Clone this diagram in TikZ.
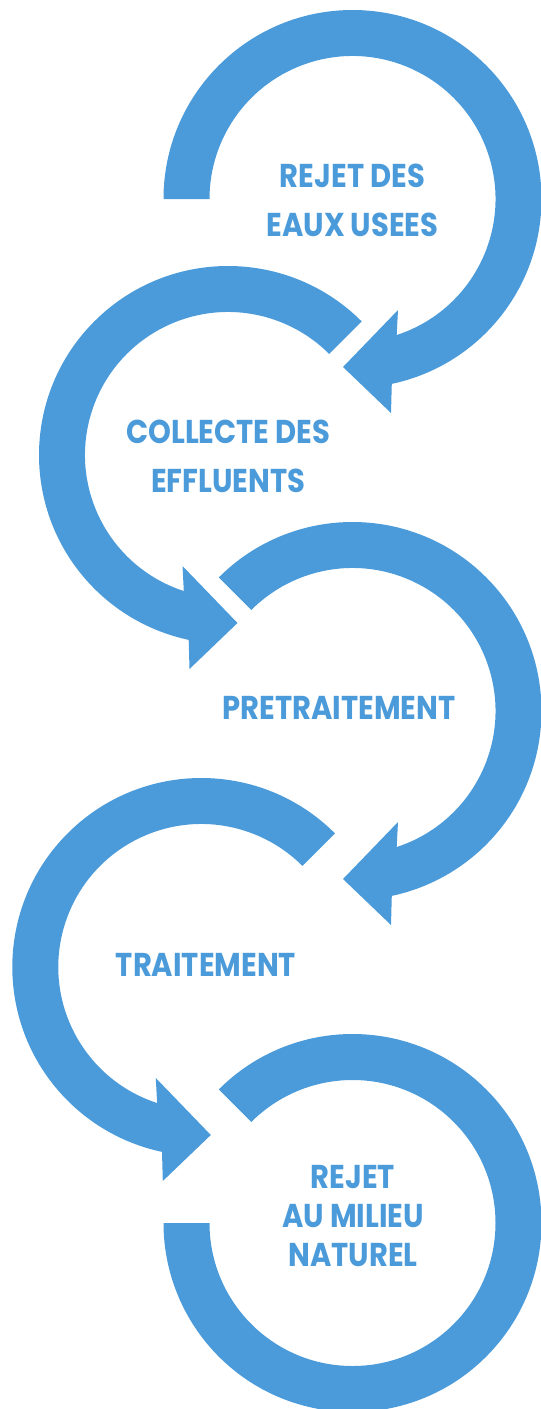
\documentclass[tikz,border=0pt]{standalone}
\usepackage{fontspec}
\setmainfont{Poppins}
\definecolor{cycleblue}{RGB}{75,155,218}
\tikzset{
  ringarrow/.style={fill=cycleblue},
  stagelabel/.style={text=cycleblue, inner sep=0pt, anchor=base, align=center,
    xscale=0.88, transform shape,
    font=\bfseries\fontsize{33}{48.7}\selectfont}
}

\begin{document}
\begin{tikzpicture}[x=1pt,y=1pt]
  \useasboundingbox (0,0) rectangle (541,-1409);
  %
  \begin{scope}[shift={(352.5,-199)}]
    \fill[ringarrow] (180:189) arc[start angle=180, end angle=-78, radius=189]
      -- (38.5,-214) -- (-9.5,-168) -- (45.5,-111)
      -- (-72:143) arc[start angle=-72, end angle=180, radius=143] -- cycle;
  \end{scope}
  %
  \begin{scope}[shift={(228,-455)}, xscale=-1]
    \fill[ringarrow] (135:189) arc[start angle=135, end angle=-78, radius=189]
      -- (38.5,-214) -- (-9.5,-168) -- (45.5,-111)
      -- (-72:143) arc[start angle=-72, end angle=135, radius=143] -- cycle;
  \end{scope}
  %
  \begin{scope}[shift={(352.5,-711)}]
    \fill[ringarrow] (135:189) arc[start angle=135, end angle=-78, radius=189]
      -- (38.5,-214) -- (-9.5,-168) -- (45.5,-111)
      -- (-72:143) arc[start angle=-72, end angle=135, radius=143] -- cycle;
  \end{scope}
  %
  \begin{scope}[shift={(201.3,-967)}, xscale=-1]
    \fill[ringarrow] (135:189) arc[start angle=135, end angle=-78, radius=189]
      -- (38.5,-214) -- (-9.5,-168) -- (45.5,-111)
      -- (-72:143) arc[start angle=-72, end angle=135, radius=143] -- cycle;
  \end{scope}
  %
  \begin{scope}[shift={(352.5,-1223)}]
    \fill[ringarrow] (135:189) arc[start angle=135, end angle=-180, radius=189]
      -- (180:143) arc[start angle=-180, end angle=135, radius=143] -- cycle;
  \end{scope}
  %
  \node[stagelabel] (rejet)    at (352.5,-236)   {REJET DES\\EAUX USEES};
  \node[stagelabel] (collecte) at (228.3,-492.3) {COLLECTE DES\\EFFLUENTS};
  \node[stagelabel] (pretrait) at (339,-719.3)   {PRETRAITEMENT};
  \node[stagelabel] (trait)    at (206,-976.7)   {TRAITEMENT};
  \node[stagelabel, font=\bfseries\fontsize{33}{39}\selectfont]
                    (milieu)   at (353,-1266.7)  {REJET\\AU MILIEU\\NATUREL};
\end{tikzpicture}
\end{document}
